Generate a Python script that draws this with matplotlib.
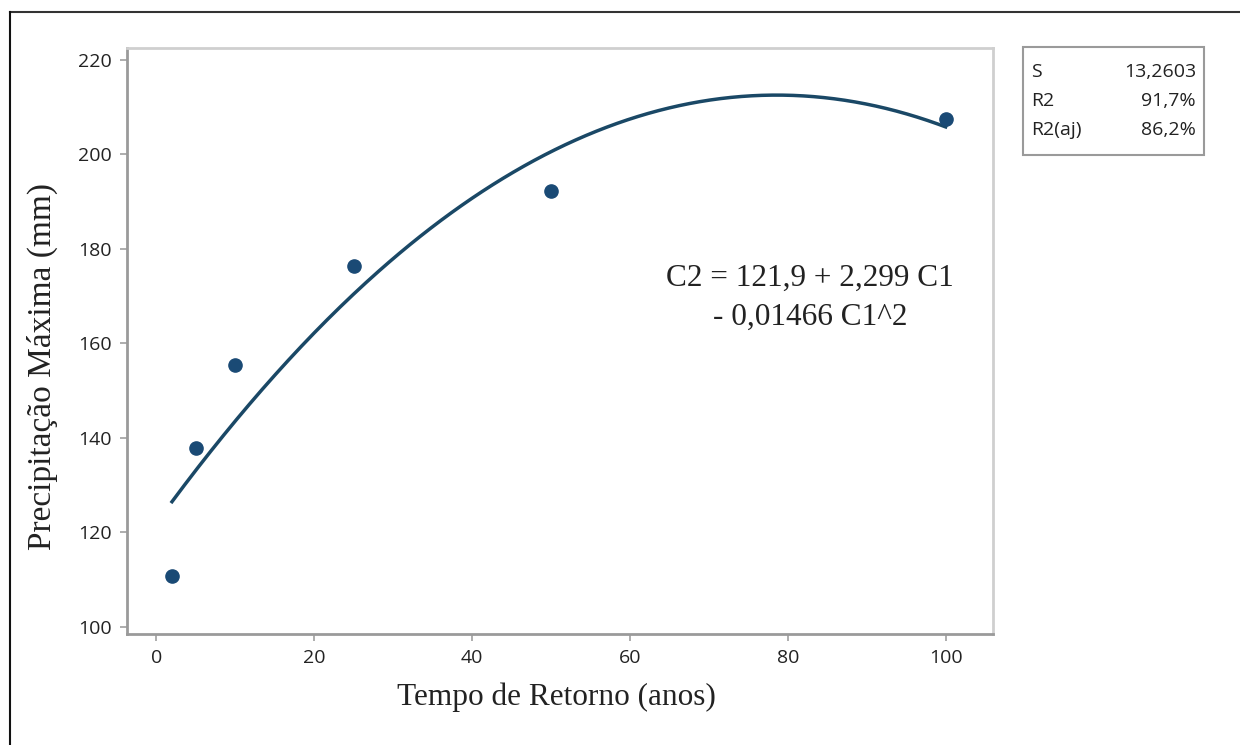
import numpy as np
import matplotlib
matplotlib.use("Agg")
import matplotlib.pyplot as plt
from matplotlib.lines import Line2D
from matplotlib.patches import Rectangle

# dados
tempo_retorno = [2, 5, 10, 25, 50, 100]
precipitacao = [110.8, 137.8, 155.4, 176.3, 192.2, 207.4]

x_ticks = [0, 20, 40, 60, 80, 100]
y_ticks = [100, 120, 140, 160, 180, 200, 220]

stat_names = ["S", "R2", "R2(aj)"]
stat_values = ["13,2603", "91,7%", "86,2%"]

equacao = "C2 = 121,9 + 2,299 C1\n- 0,01466 C1^2"

cor = "#1a4a75"
serif = "Liberation Serif"
sans = "Open Sans"

fig = plt.figure(figsize=(12.4, 7.45), dpi=100)
ax = fig.add_axes([127 / 1240, 1 - 634 / 745, (993 - 127) / 1240, (634 - 48) / 745])

# ajuste quadratico (regressao dos pontos)
coef = np.polyfit(tempo_retorno, precipitacao, 2)
xs = np.linspace(min(tempo_retorno), max(tempo_retorno), 300)
ax.plot(xs, np.polyval(coef, xs), color="#1a4866", lw=2.5, zorder=2)
ax.plot(tempo_retorno, precipitacao, "o", color=cor, ms=9.5, zorder=3)

ax.set_xlim(-3.7, 106)
ax.set_ylim(98.5, 222.5)
ax.set_xticks(x_ticks)
ax.set_yticks(y_ticks)
ax.tick_params(length=5, width=1.2, color="#a0a0a0", labelsize=14,
               labelcolor="#222222", pad=6)
for lab in ax.get_xticklabels() + ax.get_yticklabels():
    lab.set_fontfamily(sans)

for s in ["left", "bottom"]:
    ax.spines[s].set_color("#9a9a9a")
    ax.spines[s].set_linewidth(2)
for s in ["top", "right"]:
    ax.spines[s].set_color("#cfcfcf")
    ax.spines[s].set_linewidth(2)

fig.text(556 / 1240, 1 - 697 / 745, "Tempo de Retorno (anos)", ha="center",
         va="center", fontsize=22.5, family=serif, color="#222222")
fig.text(42 / 1240, 1 - 366 / 745, "Precipitação Máxima (mm)", ha="center",
         va="center", rotation=90, fontsize=24, family=serif, color="#222222")

fig.text(810 / 1240, 1 - 298 / 745, equacao, ha="center", va="center",
         multialignment="center", fontsize=22.5, family=serif, color="#222222",
         linespacing=1.45)

# caixa de estatisticas
fig.patches.append(Rectangle((1023 / 1240, 1 - 155 / 745), 181 / 1240, 108 / 745,
                             transform=fig.transFigure, fill=False,
                             edgecolor="#9a9a9a", lw=1.5))
for i, (nome, val) in enumerate(zip(stat_names, stat_values)):
    yy = 1 - (72 + 29 * i) / 745
    fig.text(1031 / 1240, yy, nome, ha="left", va="center", fontsize=14,
             family=sans, color="#222222")
    fig.text(1196 / 1240, yy, val, ha="right", va="center", fontsize=14,
             family=sans, color="#222222")

# moldura externa
fig.add_artist(Line2D([10 / 1240, 1], [1 - 12 / 745, 1 - 12 / 745],
                      transform=fig.transFigure, color="#333333", lw=1.5))
fig.add_artist(Line2D([10 / 1240, 10 / 1240], [0, 1 - 12 / 745],
                      transform=fig.transFigure, color="#111111", lw=1.5))

fig.savefig("out.png", dpi=100)
